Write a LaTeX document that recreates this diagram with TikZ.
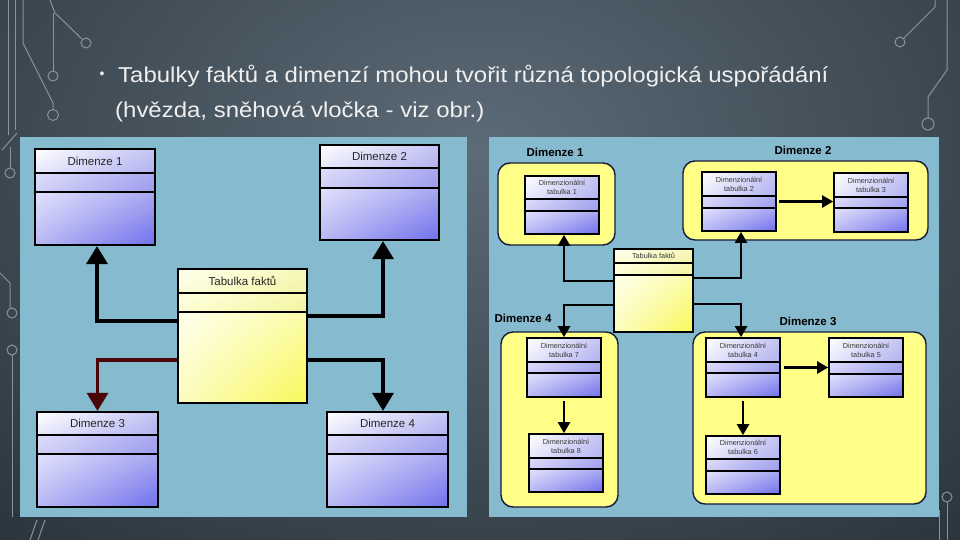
\documentclass[tikz,border=0pt]{standalone}
\usepackage{fontspec}
\usepackage{graphicx}
\setmainfont{Liberation Sans}
\usetikzlibrary{arrows.meta,fit,calc,shadings}
\definecolor{bgin}{HTML}{5B6B77}
\definecolor{bgout}{HTML}{1A2127}
\definecolor{panel}{RGB}{134,186,206}
\definecolor{grpfill}{HTML}{FFFF88}
\definecolor{grpline}{HTML}{141A3A}
\definecolor{circ}{HTML}{8694A0}
\definecolor{darkred}{HTML}{4A0606}
\definecolor{titlec}{HTML}{F0F0F0}
\tikzset{
  hdrB/.style={upper left=white, upper right={rgb,255:red,196;green,196;blue,244}, lower left={rgb,255:red,232;green,232;blue,252}, lower right={rgb,255:red,176;green,176;blue,240}},
  midB/.style={upper left={rgb,255:red,222;green,222;blue,250}, upper right={rgb,255:red,168;green,168;blue,240}, lower left={rgb,255:red,208;green,208;blue,246}, lower right={rgb,255:red,156;green,156;blue,238}},
  botB/.style={upper left={rgb,255:red,226;green,226;blue,252}, upper right={rgb,255:red,168;green,168;blue,242}, lower left={rgb,255:red,184;green,184;blue,244}, lower right={rgb,255:red,112;green,112;blue,236}},
  hdrY/.style={upper left={rgb,255:red,255;green,255;blue,240}, upper right={rgb,255:red,248;green,248;blue,184}, lower left={rgb,255:red,252;green,252;blue,216}, lower right={rgb,255:red,244;green,244;blue,168}},
  midY/.style={upper left={rgb,255:red,255;green,255;blue,226}, upper right={rgb,255:red,248;green,248;blue,176}, lower left={rgb,255:red,252;green,252;blue,208}, lower right={rgb,255:red,244;green,244;blue,160}},
  botY/.style={upper left={rgb,255:red,255;green,255;blue,238}, upper right={rgb,255:red,252;green,252;blue,170}, lower left={rgb,255:red,252;green,252;blue,190}, lower right={rgb,255:red,248;green,248;blue,90}},
  tblframe/.style={draw=black, inner sep=0pt, line width=2.2pt},
  tbldiv/.style={draw=black, line width=1.8pt},
  tbltext/.style={font=\fontsize{11.5}{13}\selectfont, text=black!85},
  grp/.style={draw=grpline, fill=grpfill, line width=1.4pt, rounded corners=12pt, inner sep=0pt},
  grplbl/.style={font=\bfseries\fontsize{11.5}{13}\selectfont, text=black},
  bigarr/.style={line width=3.4pt, -{Triangle[width=21pt,length=18pt]}},
  smallarr/.style={line width=2.4pt, -{Triangle[width=12pt,length=11pt]}},
  circline/.style={draw=circ, line width=1pt},
}
% name, x1, y1, x2, y2, divider1, divider2, colour key (B/Y), text
\newcommand\umltable[9]{%
  \shade[hdr#8] (#2,#3) rectangle (#4,#6);
  \shade[mid#8] (#2,#6) rectangle (#4,#7);
  \shade[bot#8] (#2,#7) rectangle (#4,#5);
  \draw[tbldiv] (#2,#6) -- (#4,#6) (#2,#7) -- (#4,#7);
  \node[tblframe, fit={(#2,#3) (#4,#5)}] (#1) {};
  \node[tbltext, align=center, inner sep=0pt] (#1t) at ($(#2,#3)!0.5!(#4,#6)$) {#9};
}
\begin{document}
\begin{tikzpicture}[x=1pt,y=-1pt]
\useasboundingbox (0,0) rectangle (960,540);
% background
\begin{scope}
  \clip (0,0) rectangle (960,540);
  \shade[inner color=bgin, outer color=bgout] (-520,-550) rectangle (1480,850);
\end{scope}
% circuit decoration
\begin{scope}[circline]
  \draw (8,0) -- (8,135);
  \draw (15,0) -- (15,130);
  \draw (23,0) -- (23,43) -- (53,103) -- (53,110);
  \draw (53,115) circle (5.5);
  \draw (50,0) -- (55,13) -- (82,39);
  \draw (86,43) circle (5);
  \draw (53,13) -- (53,71);
  \draw (53,76) circle (5);
  \draw (2,150) -- (17,133);
  \draw (10,147) -- (10,168);
  \draw (10,173) circle (5);
  \draw (0,273) -- (10,283) -- (10,308);
  \draw (12,313) circle (5);
  \draw (12,350) circle (5);
  \draw (12,355) -- (12,517);
  \draw (37,520) -- (30,540);
  \draw (45,520) -- (38,540);
  \draw (935,0) -- (935,7) -- (904,38);
  \draw (900,42) circle (5);
  \draw (947,0) -- (947,70) -- (928,97) -- (928,118);
  \draw (928,124) circle (6);
  \draw (947,497) circle (5);
  \draw (947,502) -- (947,540);
  \draw (939,510) -- (939,540);
\end{scope}
% title
\node[text=titlec, font=\fontsize{14}{14}\selectfont, anchor=center] (bullet) at (102,75) {•};
\node[text=titlec, font=\fontsize{21.5}{26}\selectfont, anchor=base west, inner sep=0pt] (title1) at (118,83)
  {\scalebox{1.115}[1]{Tabulky faktů a dimenzí mohou tvořit různá topologická uspořádání}};
\node[text=titlec, font=\fontsize{21.5}{26}\selectfont, anchor=base west, inner sep=0pt] (title2) at (115,118)
  {\scalebox{1.115}[1]{(hvězda, sněhová vločka - viz obr.)}};
% panels
\node[fill=panel, inner sep=0pt, fit={(20,137) (467,517)}] (lpanel) {};
\node[fill=panel, inner sep=0pt, fit={(489,137) (939,517)}] (rpanel) {};
% ---------- left: star ----------
\umltable{d1}{35}{149}{155}{245}{173}{192}{B}{Dimenze 1}
\umltable{d2}{320}{145}{439}{240}{168}{188}{B}{Dimenze 2}
\umltable{fact}{178}{269}{307}{403}{293}{312}{Y}{Tabulka faktů}
\umltable{d3}{37}{412}{158}{507}{435}{454}{B}{Dimenze 3}
\umltable{d4}{327}{412}{448}{507}{435}{454}{B}{Dimenze 4}
\coordinate (ya) at (0,321);
\coordinate (yb) at (0,316);
\coordinate (yc) at (0,360);
\draw[bigarr] (fact.west |- ya) -| ([xshift=2pt]d1.south);
\draw[bigarr] (fact.east |- yb) -| ([xshift=3.5pt]d2.south);
\draw[bigarr, draw=darkred] (fact.west |- yc) -| (d3.north);
\draw[bigarr] (fact.east |- yc) -| ([xshift=-4.5pt]d4.north);
% ---------- right: snowflake ----------
\node[grp, fit={(498,163) (615,245)}] (g1) {};
\node[grp, fit={(683,161) (928,240)}] (g2) {};
\node[grp, fit={(501,332) (618,507)}] (g4) {};
\node[grp, fit={(693,332) (926,504)}] (g3) {};
\node[grplbl] (g1l) at (555,152) {Dimenze 1};
\node[grplbl] (g2l) at (803,150) {Dimenze 2};
\node[grplbl] (g4l) at (523,318) {Dimenze 4};
\node[grplbl] (g3l) at (808,321) {Dimenze 3};
\begin{scope}[tblframe/.append style={line width=1.7pt}, tbldiv/.append style={line width=1.3pt},
  tbltext/.style={font=\fontsize{7.3}{9.3}\selectfont, text=black!78}]
\umltable{t1}{525}{176}{599}{234}{199}{211}{B}{Dimenzionální\\tabulka 1}
\umltable{t2}{702}{172}{776}{231}{196}{208}{B}{Dimenzionální\\tabulka 2}
\umltable{t3}{834}{173}{908}{232}{197}{208}{B}{Dimenzionální\\tabulka 3}
\umltable{rf}{614}{249}{693}{332}{263}{275}{Y}{Tabulka faktů}
\umltable{t7}{527}{338}{601}{397}{362}{373}{B}{Dimenzionální\\tabulka 7}
\umltable{t8}{529}{434}{603}{492}{458}{469}{B}{Dimenzionální\\tabulka 8}
\umltable{t4}{706}{338}{780}{397}{362}{373}{B}{Dimenzionální\\tabulka 4}
\umltable{t5}{829}{338}{903}{397}{362}{374}{B}{Dimenzionální\\tabulka 5}
\umltable{t6}{706}{436}{780}{494}{459}{471}{B}{Dimenzionální\\tabulka 6}
\end{scope}
\coordinate (yd) at (0,281);
\coordinate (ye) at (0,278);
\coordinate (yf) at (0,305);
\coordinate (yg) at (0,304);
\draw[smallarr] (rf.west |- yd) -| ([xshift=2pt]t1.south);
\draw[smallarr] (rf.east |- ye) -| ([xshift=2pt]t2.south);
\draw[smallarr] (rf.west |- yf) -| (t7.north);
\draw[smallarr] (rf.east |- yg) -| ([xshift=-2pt]t4.north);
\draw[smallarr, shorten <=2pt] (t2.east) -- (t3.west |- t2.east);
\draw[smallarr, shorten <=3pt] (t4.east) -- (t5.west |- t4.east);
\draw[smallarr, shorten <=3pt] (t7.south) -- (t7.south |- t8.north);
\draw[smallarr, shorten <=3pt] (t4.south) -- (t4.south |- t6.north);
\end{tikzpicture}
\end{document}
